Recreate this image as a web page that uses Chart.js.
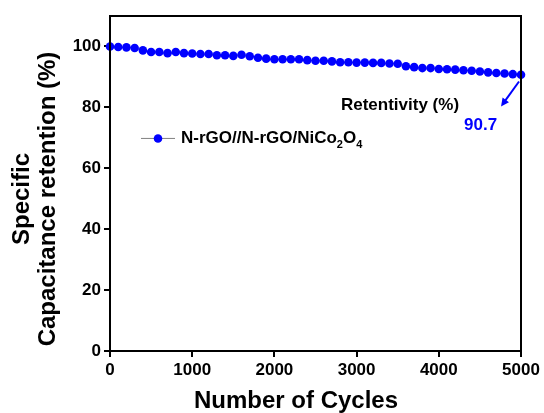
<!DOCTYPE html>
<html>
<head>
<meta charset="utf-8">
<script src="https://cdn.jsdelivr.net/npm/chart.js@4"></script>
<style>
  html, body { margin: 0; padding: 0; background: #ffffff; }
  #wrap { width: 544px; height: 413px; }
</style>
</head>
<body>
<div id="wrap"><canvas id="chart" width="544" height="413"></canvas></div>
<script>
(function () {
    'use strict';

    /* ---------- data ---------- */
    var cycles = [0, 100, 200, 300, 400, 500, 600, 700, 800, 900,
        1000, 1100, 1200, 1300, 1400, 1500, 1600, 1700, 1800, 1900,
        2000, 2100, 2200, 2300, 2400, 2500, 2600, 2700, 2800, 2900,
        3000, 3100, 3200, 3300, 3400, 3500, 3600, 3700, 3800, 3900,
        4000, 4100, 4200, 4300, 4400, 4500, 4600, 4700, 4800, 4900, 5000];

    var retention = [100, 99.8, 99.7, 99.5, 98.7, 98.2, 98.2, 97.8, 98.2, 97.8,
        97.7, 97.5, 97.5, 97.1, 97.1, 96.9, 97.3, 96.8, 96.3, 96.0,
        95.8, 95.8, 95.8, 95.8, 95.5, 95.3, 95.3, 95.1, 94.8, 94.8,
        94.7, 94.7, 94.6, 94.6, 94.4, 94.3, 93.5, 93.2, 92.9, 92.9,
        92.6, 92.5, 92.4, 92.2, 92.0, 91.8, 91.5, 91.3, 91.1, 90.9, 90.7];

    var xTicks = [0, 1000, 2000, 3000, 4000, 5000];
    var yTicks = [0, 20, 40, 60, 80, 100];

    var seriesName = 'N-rGO//N-rGO/NiCo2O4';
    var finalValue = '90.7';

    var FONT = '"Liberation Sans", Arial, sans-serif';
    var BLUE = '#0000ff';

    /* ---------- overlay: frame, titles, legend, annotation ---------- */
    var overlay = {
        id: 'overlay',
        afterDraw: function (chart) {
            var ctx = chart.ctx;
            var a = chart.chartArea;
            var xs = chart.scales.x;
            var ys = chart.scales.y;
            var px = function (v) { return xs.getPixelForValue(v); };
            var py = function (v) { return ys.getPixelForValue(v); };

            ctx.save();

            // box frame
            ctx.strokeStyle = '#000';
            ctx.lineWidth = 2;
            ctx.strokeRect(a.left, a.top, a.right - a.left, a.bottom - a.top);

            // axis titles
            ctx.fillStyle = '#000';
            ctx.font = 'bold 24px ' + FONT;
            ctx.textAlign = 'center';
            ctx.textBaseline = 'alphabetic';
            ctx.fillText('Number of Cycles', 296, 408);

            ctx.save();
            ctx.translate(29, 199);
            ctx.rotate(-Math.PI / 2);
            ctx.fillText('Specific', 0, 0);
            ctx.restore();
            ctx.save();
            ctx.translate(55, 199);
            ctx.rotate(-Math.PI / 2);
            ctx.fillText('Capacitance retention (%)', 0, 0);
            ctx.restore();

            // legend
            var ly = py(69.8);
            ctx.strokeStyle = '#808080';
            ctx.lineWidth = 1;
            ctx.beginPath();
            ctx.moveTo(px(377), ly);
            ctx.lineTo(px(791), ly);
            ctx.stroke();
            ctx.fillStyle = BLUE;
            ctx.beginPath();
            ctx.arc(px(584), ly, 4.3, 0, Math.PI * 2);
            ctx.fill();

            ctx.fillStyle = '#000';
            ctx.textAlign = 'left';
            var tx = px(864);
            var tb = py(68.4);
            var parts = [
                { t: 'N-rGO//N-rGO/NiCo', sub: false },
                { t: '2', sub: true },
                { t: 'O', sub: false },
                { t: '4', sub: true }
            ];
            parts.forEach(function (p) {
                ctx.font = p.sub ? 'bold 11px ' + FONT : 'bold 17px ' + FONT;
                ctx.fillText(p.t, tx, p.sub ? tb + 5 : tb);
                tx += ctx.measureText(p.t).width;
            });

            // annotation
            ctx.font = 'bold 17px ' + FONT;
            ctx.fillStyle = '#000';
            ctx.fillText('Retentivity (%)', px(2810), py(79.0));
            ctx.fillStyle = BLUE;
            ctx.fillText(finalValue, px(4307), py(72.7));

            var x1 = px(4976), y1 = py(88.5), x2 = px(4757), y2 = py(80.3);
            var ang = Math.atan2(y2 - y1, x2 - x1);
            var head = 9;
            ctx.strokeStyle = BLUE;
            ctx.lineWidth = 2;
            ctx.beginPath();
            ctx.moveTo(x1, y1);
            ctx.lineTo(x2 - Math.cos(ang) * 5, y2 - Math.sin(ang) * 5);
            ctx.stroke();
            ctx.beginPath();
            ctx.moveTo(x2, y2);
            ctx.lineTo(x2 - head * Math.cos(ang - 0.45), y2 - head * Math.sin(ang - 0.45));
            ctx.lineTo(x2 - head * Math.cos(ang + 0.45), y2 - head * Math.sin(ang + 0.45));
            ctx.closePath();
            ctx.fill();

            ctx.restore();
        }
    };

    var tickFont = { family: FONT, size: 17, weight: 'bold' };

    new Chart(document.getElementById('chart'), {
        type: 'line',
        data: {
            datasets: [{
                label: seriesName,
                data: cycles.map(function (c, i) { return { x: c, y: retention[i] }; }),
                borderColor: '#808080',
                borderWidth: 1,
                backgroundColor: BLUE,
                pointBackgroundColor: BLUE,
                pointBorderWidth: 0,
                pointRadius: 4.3,
                pointHoverRadius: 4.3,
                clip: false,
                tension: 0
            }]
        },
        options: {
            responsive: false,
            animation: false,
            events: [],
            layout: { padding: { left: 0, top: 16, right: 23, bottom: 0 } },
            plugins: {
                legend: { display: false },
                tooltip: { enabled: false }
            },
            scales: {
                x: {
                    type: 'linear',
                    min: 0,
                    max: 5000,
                    afterBuildTicks: function (s) { s.ticks = xTicks.map(function (v) { return { value: v }; }); },
                    afterFit: function (s) { s.height = 62; },
                    border: { display: true, color: '#000', width: 2 },
                    grid: { drawOnChartArea: false, drawTicks: true, tickLength: 6, color: '#000', lineWidth: 2 },
                    ticks: {
                        color: '#000', font: tickFont, padding: 3, maxRotation: 0,
                        callback: function (v) { return String(v); }
                    }
                },
                y: {
                    min: 0,
                    max: 110,
                    afterBuildTicks: function (s) { s.ticks = yTicks.map(function (v) { return { value: v }; }); },
                    afterFit: function (s) { s.width = 110; },
                    border: { display: true, color: '#000', width: 2 },
                    grid: { drawOnChartArea: false, drawTicks: true, tickLength: 6, color: '#000', lineWidth: 2 },
                    ticks: {
                        color: '#000', font: tickFont, padding: 3,
                        callback: function (v) { return String(v); }
                    }
                }
            }
        },
        plugins: [overlay]
    });
})();
</script>
</body>
</html>
